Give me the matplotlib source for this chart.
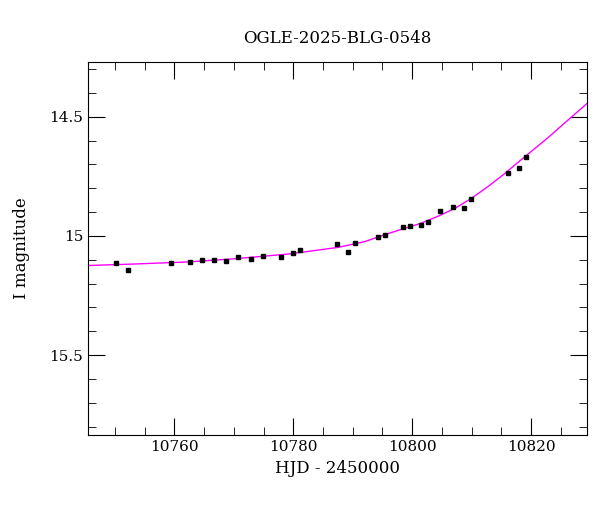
import matplotlib
matplotlib.use("Agg")
import matplotlib.pyplot as plt
from matplotlib.ticker import MultipleLocator

plt.rcParams["font.family"] = "DejaVu Serif"

# photometry (HJD - 2450000, I mag)
hjd = [10750.25, 10752.27, 10759.5, 10762.57, 10764.59, 10766.6, 10768.69, 10770.76,
       10772.82, 10774.84, 10777.93, 10780.0, 10781.18, 10787.34, 10789.3, 10790.47,
       10794.34, 10795.51, 10798.49, 10799.61, 10801.46, 10802.64, 10804.66, 10806.84,
       10808.74, 10809.87, 10816.13, 10817.93, 10819.16]
mag = [15.115, 15.143, 15.112, 15.108, 15.102, 15.101, 15.104, 15.087,
       15.097, 15.084, 15.090, 15.071, 15.059, 15.034, 15.066, 15.028,
       15.006, 14.997, 14.964, 14.958, 14.955, 14.943, 14.895, 14.877,
       14.884, 14.845, 14.738, 14.714, 14.669]
err = [0.006] * len(hjd)

# model curve
model_t = [10745.5, 10753.0, 10762.35, 10770.0, 10779.16, 10787.56, 10792.0, 10795.97,
           10801.35, 10804.5, 10807.23, 10810.0, 10812.77, 10815.5, 10818.32, 10822.86,
           10826.0, 10829.41]
model_m = [15.124, 15.118, 15.109, 15.096, 15.076, 15.048, 15.024, 14.990,
           14.948, 14.916, 14.884, 14.842, 14.793, 14.740, 14.681, 14.588,
           14.519, 14.445]

fig, ax = plt.subplots(figsize=(6.0, 5.12), dpi=100)
fig.subplots_adjust(left=0.147, right=0.978, top=0.879, bottom=0.15)

ax.plot(model_t, model_m, color="magenta", lw=1)
ax.errorbar(hjd, mag, yerr=err, fmt="s", color="black", ms=3.5, elinewidth=0.8, capsize=0)

ax.set_xlim(10745.5, 10829.4)
ax.set_ylim(15.836, 14.27)
ax.xaxis.set_major_locator(MultipleLocator(20))
ax.xaxis.set_minor_locator(MultipleLocator(5))
ax.yaxis.set_minor_locator(MultipleLocator(0.1))
ax.set_yticks([14.5, 15, 15.5])
ax.set_yticklabels(["14.5", "15", "15.5"])
ax.tick_params(which="both", direction="in", top=True, right=True, labelsize=11)
ax.tick_params(which="major", length=12)
ax.tick_params(which="minor", length=6)

ax.set_xlabel("HJD - 2450000", fontsize=12)
ax.set_ylabel("I magnitude", fontsize=12, labelpad=14)
ax.set_title("OGLE-2025-BLG-0548", fontsize=12, pad=14)

fig.savefig("out.png", dpi=100)
